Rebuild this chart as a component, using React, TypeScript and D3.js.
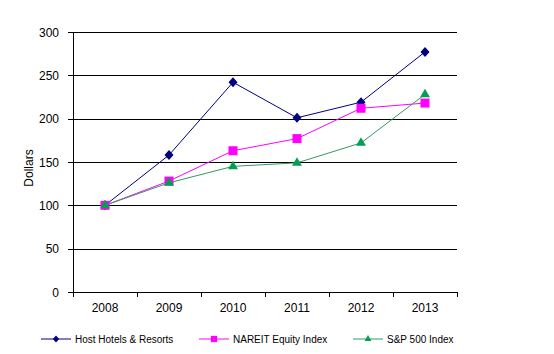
import React from 'react';
import * as d3 from 'd3';

const years = ['2008', '2009', '2010', '2011', '2012', '2013'];
const hostValues = [100, 158, 242, 201, 219, 277];
const nareitValues = [100, 128, 163, 177, 212, 218];
const spValues = [100, 126, 145, 149, 172, 228];
const yTicks = [0, 50, 100, 150, 200, 250, 300];

const seriesList = [
    { name: 'Host Hotels & Resorts', values: hostValues, line: '#000080', fill: '#000080', marker: 'diamond', legendX: 41 },
    { name: 'NAREIT Equity Index', values: nareitValues, line: '#FF00FF', fill: '#FF00FF', marker: 'square', legendX: 199 },
    { name: 'S&P 500 Index', values: spValues, line: '#339966', fill: '#00A050', marker: 'triangle', legendX: 353 },
];

const W = 554;
const H = 354;
const margin = { left: 73, right: 97, top: 32, bottom: 62 };

const font = 'Arial, "Liberation Sans", sans-serif';

const symbolFor = (m: string) => {
    if (m === 'diamond') return 'M0,-5L4.5,0L0,5L-4.5,0Z';
    if (m === 'square') return d3.symbol().type(d3.symbolSquare).size(81)();
    return d3.symbol().type(d3.symbolTriangle).size(42)();
};

export default function App() {
    const x = d3.scaleBand().domain(years).range([margin.left, W - margin.right]);
    const y = d3.scaleLinear().domain([0, 300]).range([H - margin.bottom, margin.top]);
    const cx = (yr: string) => (x(yr) as number) + x.bandwidth() / 2;
    const line = d3.line<number>().x((_, i) => cx(years[i])).y(d => y(d));
    const x0 = margin.left;
    const x1 = W - margin.right;
    const yBase = y(0);

    return (
        <svg width={W} height={H} style={{ position: 'absolute', left: 0, top: 0, background: '#fff' }}>
            {/* grid lines */}
            {yTicks.map(t => (
                <g key={t}>
                    {t > 0 && <line x1={x0} x2={x1} y1={Math.round(y(t)) + 0.5} y2={Math.round(y(t)) + 0.5} stroke="#000" />}
                    <line x1={x0 - 5} x2={x0} y1={Math.round(y(t)) + 0.5} y2={Math.round(y(t)) + 0.5} stroke="#000" />
                    <text x={x0 - 14} y={y(t) + 4.5} textAnchor="end" fontFamily={font} fontSize={12} fill="#000">{t}</text>
                </g>
            ))}
            <line x1={x0 + 0.5} x2={x0 + 0.5} y1={y(300)} y2={yBase} stroke="#000" />
            <line x1={x0} x2={x1} y1={Math.round(yBase) + 0.5} y2={Math.round(yBase) + 0.5} stroke="#000" />
            {d3.range(years.length + 1).map(i => {
                const xx = Math.round(x0 + i * x.bandwidth()) + 0.5;
                return <line key={i} x1={xx} x2={xx} y1={yBase} y2={yBase + 5} stroke="#000" />;
            })}
            {years.map(yr => (
                <text key={yr} x={cx(yr)} y={yBase + 20} textAnchor="middle" fontFamily={font} fontSize={12} fill="#000">{yr}</text>
            ))}
            <text transform={`translate(33,${(y(300) + yBase) / 2 + 6}) rotate(-90)`} textAnchor="middle" fontFamily={font} fontSize={12} fill="#000">Dollars</text>

            {/* series */}
            {seriesList.map(s => (
                <g key={s.name}>
                    <path d={line(s.values) as string} fill="none" stroke={s.line} strokeWidth={1} />
                    {s.values.map((v, i) => (
                        <path key={i} d={symbolFor(s.marker) as string} transform={`translate(${cx(years[i])},${y(v)})`} fill={s.fill} />
                    ))}
                </g>
            ))}

            {/* legend */}
            {seriesList.map(s => (
                <g key={s.name + '-lg'} transform={`translate(${s.legendX},339)`}>
                    <line x1={0} x2={30} y1={0} y2={0} stroke={s.line} />
                    <path d={symbolFor(s.marker) as string} transform={`translate(15,0) scale(0.7)`} fill={s.fill} />
                    <text x={34} y={3.5} fontFamily={font} fontSize={10} fill="#000">{s.name}</text>
                </g>
            ))}
        </svg>
    );
}
